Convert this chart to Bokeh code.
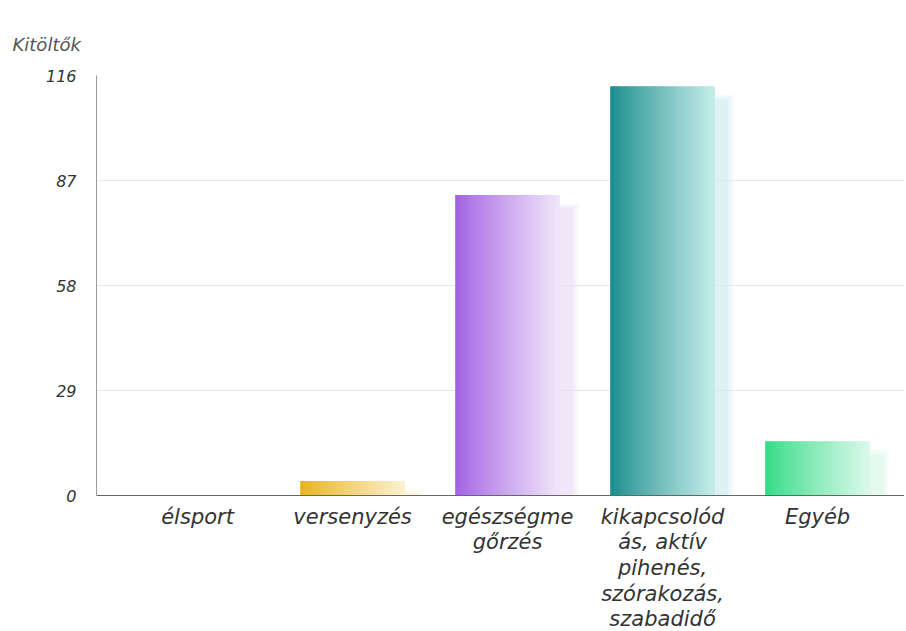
import numpy as np
from bokeh.plotting import figure
from bokeh.models import Range1d, FixedTicker
from bokeh.embed import file_html
from bokeh.resources import INLINE

# ---- data ----
categories = ["élsport", "versenyzés", "egészségmegőrzés",
              "kikapcsolódás, aktív pihenés, szórakozás, szabadidő", "Egyéb"]
tick_labels = ["élsport", "versenyzés", "egészségme\ngőrzés",
               "kikapcsolód\nás, aktív\npihenés,\nszórakozás,\nszabadidő", "Egyéb"]
values = [0, 4, 83, 113, 15]
y_ticks = [0, 29, 58, 87, 116]
y_title = "Kitöltők"

# ---- styles ----
left_colors = ["#c9c9c9", "#e8b420", "#a463e3", "#1d8e8e", "#38db88"]
right_colors = ["#f2f2f2", "#fcf0cc", "#efe4f9", "#c2ebe8", "#d8f9e8"]
shadow_colors = ["#eeeeee", "#fbeec6", "#eadcf7", "#cdeeee", "#d6f8e6"]
FONT = "DejaVu Sans"

def hex2rgb(h):
    h = h.lstrip("#")
    return np.array([int(h[i:i + 2], 16) for i in (0, 2, 4)], dtype=float)

def rgb2hex(c):
    return "#%02x%02x%02x" % tuple(int(round(v)) for v in c)

x_start, x_end = -0.652, 4.561
y_start, y_end = 0, 116

p = figure(frame_width=808, frame_height=420, output_backend="svg", toolbar_location=None,
           x_range=Range1d(x_start, x_end), y_range=Range1d(y_start, y_end),
           min_border_left=96, min_border_right=0, min_border_top=75,
           min_border_bottom=0, title=y_title)
p.outline_line_color = None
p.background_fill_color = "white"
p.border_fill_color = "white"

p.title.align = "left"
p.title.offset = -84
p.title.standoff = 42
p.title.text_font = FONT
p.title.text_font_style = "italic"
p.title.text_font_size = "18px"
p.title.text_color = "#555555"

bar_w = 0.67
n = 28
xs_idx = np.arange(len(categories))

for i, v in zip(xs_idx, values):
    if v <= 0:
        continue
    # soft shadow (offset right/down, blurred)
    sh_off_x = 0.11
    sh_drop = 3.6
    for k, a in enumerate([0.35, 0.25, 0.18, 0.12]):
        spread = k * 0.025
        p.vbar(x=[i + sh_off_x], width=[bar_w - 0.04 + spread],
               top=[max(v - sh_drop + spread * 20, 0.5)],
               bottom=[0], fill_color=shadow_colors[i], fill_alpha=a, line_color=None)
    # gradient bar
    cl = hex2rgb(left_colors[i])
    cr = hex2rgb(right_colors[i])
    sw = bar_w / n
    xs = [i - bar_w / 2 + (j + 0.5) * sw for j in range(n)]
    cols = [rgb2hex(cl + (cr - cl) * (j / (n - 1)) ** 0.9) for j in range(n)]
    p.vbar(x=xs, width=sw * 1.25, top=[v] * n, bottom=[0] * n,
           fill_color=cols, line_color=None)

# axes
p.xaxis.ticker = FixedTicker(ticks=list(xs_idx))
p.xaxis.major_label_overrides = {int(i): t for i, t in zip(xs_idx, tick_labels)}
p.xaxis.major_label_text_font = FONT
p.xaxis.major_label_text_font_style = "italic"
p.xaxis.major_label_text_font_size = "21px"
p.xaxis.major_label_text_color = "#333333"
p.xaxis.major_label_text_line_height = 1.07
p.xaxis.major_label_standoff = 3
p.xaxis.axis_line_color = "#666666"
p.xaxis.axis_line_width = 1.2
p.xaxis.major_tick_line_color = None
p.xaxis.minor_tick_line_color = None

p.yaxis.ticker = FixedTicker(ticks=y_ticks)
p.yaxis.major_label_text_font = FONT
p.yaxis.major_label_text_font_style = "italic"
p.yaxis.major_label_text_font_size = "16px"
p.yaxis.major_label_text_color = "#333333"
p.yaxis.major_label_standoff = 14
p.yaxis.axis_line_color = "#9a9a9a"
p.yaxis.major_tick_line_color = None
p.yaxis.minor_tick_line_color = None

p.xgrid.grid_line_color = None
p.ygrid.ticker = FixedTicker(ticks=y_ticks)
p.ygrid.grid_line_color = "#e8e8e8"

open("out.html", "w").write(file_html(p, INLINE))
